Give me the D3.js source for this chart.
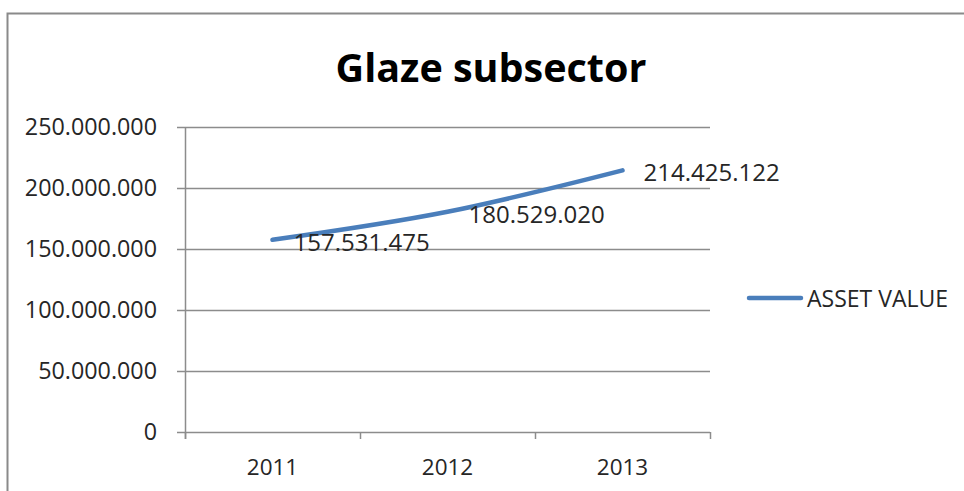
<!DOCTYPE html>
<html><head><meta charset="utf-8">
<script src="https://cdn.jsdelivr.net/npm/d3@7"></script>
<style>html,body{margin:0;padding:0;background:#fff;}svg{display:block;}</style>
</head><body>
<svg id="c" width="964" height="491"></svg>
<script>
const title = "Glaze subsector";
const seriesName = "ASSET VALUE";
const categories = ["2011", "2012", "2013"];
const values = [157531475, 180529020, 214425122];
const valueLabels = ["157.531.475", "180.529.020", "214.425.122"];
const yTicks = [0, 50000000, 100000000, 150000000, 200000000, 250000000];
const yTickLabels = ["0", "50.000.000", "100.000.000", "150.000.000", "200.000.000", "250.000.000"];

(function () {
const svg = d3.select("#c");
const font = "'Open Sans', sans-serif";
const gridColor = "#8c8c8c";
const textColor = "#262626";
const lineColor = "#4a7ebb";

// outer chart border
svg.append("rect").attr("x", 7.5).attr("y", 13.5).attr("width", 1000).attr("height", 600)
  .attr("fill", "none").attr("stroke", "#8a8a8a").attr("stroke-width", 2);

const pLeft = 185, pRight = 710, pTop = 127, pBottom = 432;
const x = d3.scaleBand().domain(categories).range([pLeft, pRight]).padding(0);
const y = d3.scaleLinear().domain([0, 250000000]).range([pBottom, pTop]);

// title
svg.append("text").attr("x", 491).attr("y", 67).attr("text-anchor", "middle")
  .attr("dominant-baseline", "central")
  .style("font-family", font).style("font-weight", "bold").style("font-size", "39.5px")
  .attr("fill", "#000").text(title);

// gridlines
svg.append("g").selectAll("line").data(yTicks).join("line")
  .attr("x1", pLeft - 8).attr("x2", pRight)
  .attr("y1", d => Math.round(y(d)) + 0.5).attr("y2", d => Math.round(y(d)) + 0.5)
  .attr("stroke", gridColor).attr("stroke-width", 1.5);

// y axis
const yAxis = d3.axisLeft(y).tickValues(yTicks).tickSize(0).tickPadding(0)
  .tickFormat((d, i) => yTickLabels[i]);
const gy = svg.append("g").attr("transform", `translate(${pLeft - 28},0)`).call(yAxis);
gy.select(".domain").remove();
gy.selectAll("text").style("font-family", font).style("font-size", "23.3px").attr("fill", textColor);
svg.append("line").attr("x1", pLeft + 0.5).attr("x2", pLeft + 0.5).attr("y1", pTop).attr("y2", pBottom + 7)
  .attr("stroke", gridColor).attr("stroke-width", 1.5);

// x axis
const boundaries = categories.map(c => x(c)).concat([pRight]);
svg.append("g").selectAll("line").data(boundaries).join("line")
  .attr("x1", d => d + 0.5).attr("x2", d => d + 0.5).attr("y1", pBottom).attr("y2", pBottom + 7)
  .attr("stroke", gridColor).attr("stroke-width", 1.5);
const xAxis = d3.axisBottom(x).tickSize(0).tickPadding(0);
const gx = svg.append("g").attr("transform", `translate(0,${pBottom + 27})`).call(xAxis);
gx.select(".domain").remove();
gx.selectAll("text").style("font-family", font).style("font-size", "22.5px").attr("fill", textColor)
  .attr("dy", "0.71em");

// line
const pts = categories.map((c, i) => [x(c) + x.bandwidth() / 2, y(values[i])]);
const line = d3.line().curve(d3.curveCardinal.tension(0));
svg.append("path").attr("d", line(pts)).attr("fill", "none").attr("stroke", lineColor)
  .attr("stroke-width", 4.5).attr("stroke-linecap", "round");

// data labels
svg.append("g").selectAll("text").data(pts).join("text")
  .attr("x", d => d[0] + 21).attr("y", d => d[1] + 1.5)
  .attr("dominant-baseline", "central")
  .style("font-family", font).style("font-size", "24px").attr("fill", textColor)
  .text((d, i) => valueLabels[i]);

// legend
svg.append("line").attr("x1", 749).attr("x2", 801).attr("y1", 298).attr("y2", 298)
  .attr("stroke", lineColor).attr("stroke-width", 4.5).attr("stroke-linecap", "round");
svg.append("text").attr("x", 807).attr("y", 298).attr("dominant-baseline", "central")
  .style("font-family", font).style("font-size", "23px").attr("fill", textColor).text(seriesName);
})();
</script>
</body></html>
